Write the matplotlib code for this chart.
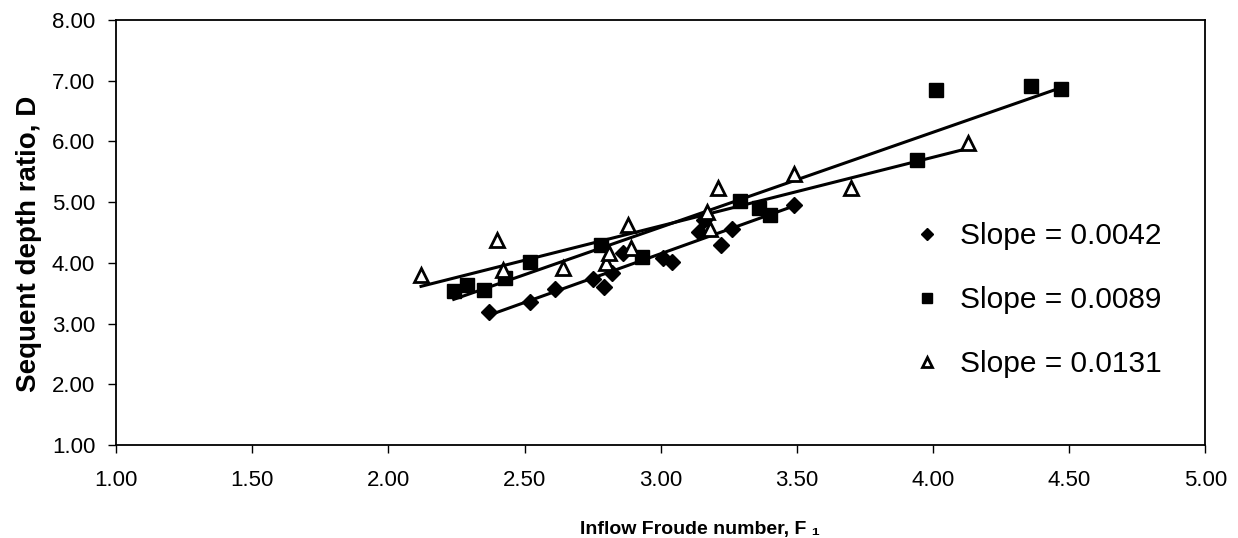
import numpy as np
import matplotlib
matplotlib.use("Agg")
import matplotlib.pyplot as plt

plt.rcParams["font.family"] = ["Liberation Sans", "DejaVu Sans"]

# Inflow Froude number F1 and sequent depth ratio D for three channel slopes
f1_s0042 = [2.37, 2.52, 2.61, 2.75, 2.79, 2.82, 2.86, 3.01, 3.04, 3.14, 3.16, 3.22, 3.26, 3.49]
d_s0042 = [3.19, 3.35, 3.57, 3.73, 3.61, 3.83, 4.17, 4.08, 4.01, 4.51, 4.70, 4.30, 4.55, 4.96]

f1_s0089 = [2.24, 2.29, 2.35, 2.43, 2.52, 2.78, 2.93, 3.29, 3.36, 3.40, 3.94, 4.01, 4.36, 4.47]
d_s0089 = [3.53, 3.64, 3.56, 3.75, 4.02, 4.29, 4.10, 5.02, 4.91, 4.79, 5.69, 6.85, 6.91, 6.86]

f1_s0131 = [2.12, 2.40, 2.42, 2.64, 2.80, 2.81, 2.88, 2.89, 3.17, 3.18, 3.21, 3.49, 3.70, 4.13]
d_s0131 = [3.80, 4.38, 3.89, 3.92, 4.00, 4.17, 4.63, 4.24, 4.83, 4.56, 5.24, 5.46, 5.24, 5.97]

labels = ["Slope = 0.0042", "Slope = 0.0089", "Slope = 0.0131"]

x_ticks = [1.0, 1.5, 2.0, 2.5, 3.0, 3.5, 4.0, 4.5, 5.0]
y_ticks = [1.0, 2.0, 3.0, 4.0, 5.0, 6.0, 7.0, 8.0]

fig = plt.figure(figsize=(12.38, 5.38), dpi=100)
ax = fig.add_axes([0.0937, 0.1729, 0.8800, 0.7900])

series = [
    (f1_s0042, d_s0042, dict(marker="D", markersize=8, markerfacecolor="black",
                             markeredgecolor="black", markeredgewidth=1.0)),
    (f1_s0089, d_s0089, dict(marker="s", markersize=9.5, markerfacecolor="black",
                             markeredgecolor="black", markeredgewidth=1.0)),
    (f1_s0131, d_s0131, dict(marker="^", markersize=9.5, markerfacecolor="white",
                             markeredgecolor="black", markeredgewidth=2.0)),
]

handles = []
for (xs, ys, style), lab in zip(series, labels):
    xs = np.asarray(xs)
    ys = np.asarray(ys)
    # least-squares trend line across the range of each series
    k, b = np.polyfit(xs, ys, 1)
    xl = np.array([xs.min(), xs.max()])
    ax.plot(xl, k * xl + b, color="black", linewidth=2.2, zorder=2)
    h, = ax.plot(xs, ys, linestyle="none", zorder=3, label=lab, **style)
    handles.append(h)

ax.set_xlim(1.0, 5.0)
ax.set_ylim(1.0, 8.0)
ax.set_xticks(x_ticks)
ax.set_yticks(y_ticks)
ax.set_xticklabels([f"{v:.2f}" for v in x_ticks])
ax.set_yticklabels([f"{v:.2f}" for v in y_ticks])
ax.tick_params(axis="both", direction="out", length=6, width=1.0, colors="black",
               labelsize=16)
ax.tick_params(axis="x", pad=12)
ax.tick_params(axis="y", pad=9)
for sp in ax.spines.values():
    sp.set_linewidth(1.3)
    sp.set_color("black")

ax.set_xlabel("Inflow Froude number, F \u2081", fontsize=14, fontweight="bold")
ax.xaxis.set_label_coords(0.536, -0.178)
ax.set_ylabel("Sequent depth ratio, D", fontsize=20, fontweight="bold")
ax.yaxis.set_label_coords(-0.068, 0.473)

leg = ax.legend(handles=handles, loc="center left",
                bbox_to_anchor=(0.7175, 0.442), bbox_transform=fig.transFigure,
                frameon=False, fontsize=21.5, labelspacing=1.2,
                handlelength=0.8, handletextpad=0.7, markerscale=0.75)

fig.savefig("out.png", dpi=100, facecolor="white")
